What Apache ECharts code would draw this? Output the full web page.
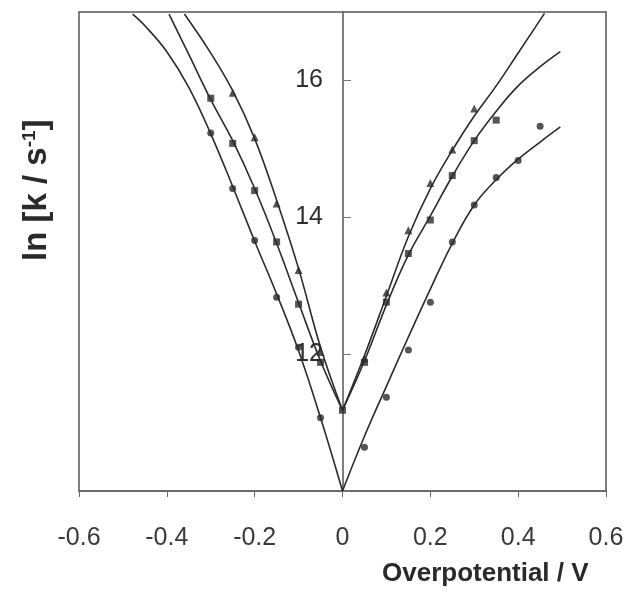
<!DOCTYPE html>
<html>
<head>
<meta charset="utf-8">
<script src="https://cdn.jsdelivr.net/npm/echarts@6/dist/echarts.min.js"></script>
<style>
html,body{margin:0;padding:0;background:#fff;}
#c{width:628px;height:594px;}
</style>
</head>
<body>
<div id="c"></div>
<script>
// x tick labels and y tick labels
var xTicks = [-0.6, -0.4, -0.2, 0, 0.2, 0.4, 0.6];
var yTickLabels = [12, 14, 16];

// measured points (markers) [overpotential V, ln k]
var ptsA = [[-0.25,15.82],[-0.2,15.17],[-0.15,14.2],[-0.1,13.23],[-0.05,12.03],
            [0.05,11.94],[0.1,12.9],[0.15,13.81],[0.2,14.5],[0.25,14.99],[0.3,15.59]];
var ptsB = [[-0.3,15.74],[-0.25,15.08],[-0.2,14.39],[-0.15,13.64],[-0.1,12.73],[-0.05,11.88],[0,11.18],
            [0.05,11.88],[0.1,12.76],[0.15,13.47],[0.2,13.96],[0.25,14.61],[0.3,15.12],[0.35,15.42]];
var ptsC = [[-0.3,15.23],[-0.25,14.42],[-0.2,13.66],[-0.15,12.83],[-0.1,12.1],[-0.05,11.07],
            [0.05,10.64],[0.1,11.37],[0.15,12.06],[0.2,12.76],[0.25,13.64],[0.3,14.18],[0.35,14.58],[0.4,14.83],[0.45,15.33]];

// fitted curves, split at the cusp (0)
var curveALeft  = [[0,11.18],[-0.05,12.1],[-0.1,13.25],[-0.15,14.25],[-0.2,15.15],[-0.25,15.85],[-0.3,16.4],[-0.36,16.97]];
var curveARight = [[0,11.18],[0.05,11.98],[0.1,12.85],[0.15,13.72],[0.2,14.42],[0.25,14.98],[0.3,15.48],[0.35,15.92],[0.4,16.4],[0.46,16.98]];
var curveBLeft  = [[0,11.18],[-0.05,11.9],[-0.1,12.75],[-0.15,13.62],[-0.2,14.42],[-0.25,15.12],[-0.3,15.72],[-0.35,16.38],[-0.395,16.97]];
var curveBRight = [[0,11.18],[0.05,11.9],[0.1,12.72],[0.15,13.45],[0.2,14.02],[0.25,14.6],[0.3,15.12],[0.35,15.55],[0.4,15.92],[0.45,16.2],[0.496,16.42]];
var curveCLeft  = [[0,10.0],[-0.05,11.07],[-0.1,12.05],[-0.15,12.88],[-0.2,13.65],[-0.25,14.45],[-0.3,15.22],[-0.35,15.9],[-0.4,16.42],[-0.45,16.8],[-0.478,16.97]];
var curveCRight = [[0,10.0],[0.05,10.8],[0.1,11.53],[0.15,12.25],[0.2,12.95],[0.25,13.62],[0.3,14.18],[0.35,14.55],[0.4,14.85],[0.45,15.1],[0.496,15.32]];

var ink = '#2b2b2b';
function curve(d){
  return {type:'line', data:d, smooth:0.4, showSymbol:false, symbol:'none',
          lineStyle:{color:ink, width:1.6}, z:3, silent:true};
}
function pts(d, sym, size){
  return {type:'scatter', data:d, symbol:sym, symbolSize:size,
          itemStyle:{color:ink}, z:4, silent:true};
}

var chart = echarts.init(document.getElementById('c'), null, {renderer:'canvas'});
chart.setOption({
  animation:false,
  backgroundColor:'#fff',
  grid:{left:79, right:22, top:12, bottom:103, show:true, borderColor:'#555', borderWidth:1.5, backgroundColor:'transparent'},
  xAxis:{
    type:'value', min:-0.6, max:0.6, interval:0.2,
    axisLine:{show:true, onZero:false, lineStyle:{color:'#666', width:1.5}},
    axisTick:{show:true, length:6, lineStyle:{color:'#666'}},
    splitLine:{show:false},
    axisLabel:{
      margin:35, fontSize:25, fontFamily:'Liberation Sans, Arial, sans-serif', color:'#3a3a3a',
      formatter:function(v){
        var r = Math.round(v*10)/10;
        for (var i=0;i<xTicks.length;i++){ if (Math.abs(xTicks[i]-r)<1e-6) return r===0?'0':r.toFixed(1); }
        return '';
      }
    }
  },
  yAxis:{
    type:'value', min:10, max:17, interval:2, position:'left', offset:-264,
    axisLine:{show:true, onZero:false, lineStyle:{color:'#555', width:1.5}},
    axisTick:{show:true, inside:true, length:8, lineStyle:{color:'#777'}},
    splitLine:{show:false},
    showMinLabel:false, showMaxLabel:false,
    axisLabel:{
      margin:20, fontSize:25, fontFamily:'Liberation Sans, Arial, sans-serif', color:'#2e2e2e',
      formatter:function(v){ return yTickLabels.indexOf(Math.round(v))>=0 && Math.abs(v-Math.round(v))<1e-6 ? String(Math.round(v)) : ''; }
    }
  },
  graphic:[
    {type:'text', left:382, top:561, style:{text:'Overpotential / V', fontSize:26, fontWeight:'bold',
      fontFamily:'Liberation Sans, Arial, sans-serif', fill:'#2a2a2a'}},
    {type:'text', x:20, y:261, rotation:Math.PI/2,
      style:{text:'ln [k / s{sup|-1}]', fontSize:33, fontWeight:'bold',
        fontFamily:'Liberation Sans, Arial, sans-serif', fill:'#2a2a2a',
        rich:{sup:{fontSize:19, fontWeight:'bold', verticalAlign:'top', padding:[0,0,15,0], fill:'#2a2a2a'}}}}
  ],
  series:[
    curve(curveALeft), curve(curveARight),
    curve(curveBLeft), curve(curveBRight),
    curve(curveCLeft), curve(curveCRight),
    pts(ptsA,'triangle',8), pts(ptsB,'rect',7), pts(ptsC,'circle',7)
  ]
});
</script>
</body>
</html>
